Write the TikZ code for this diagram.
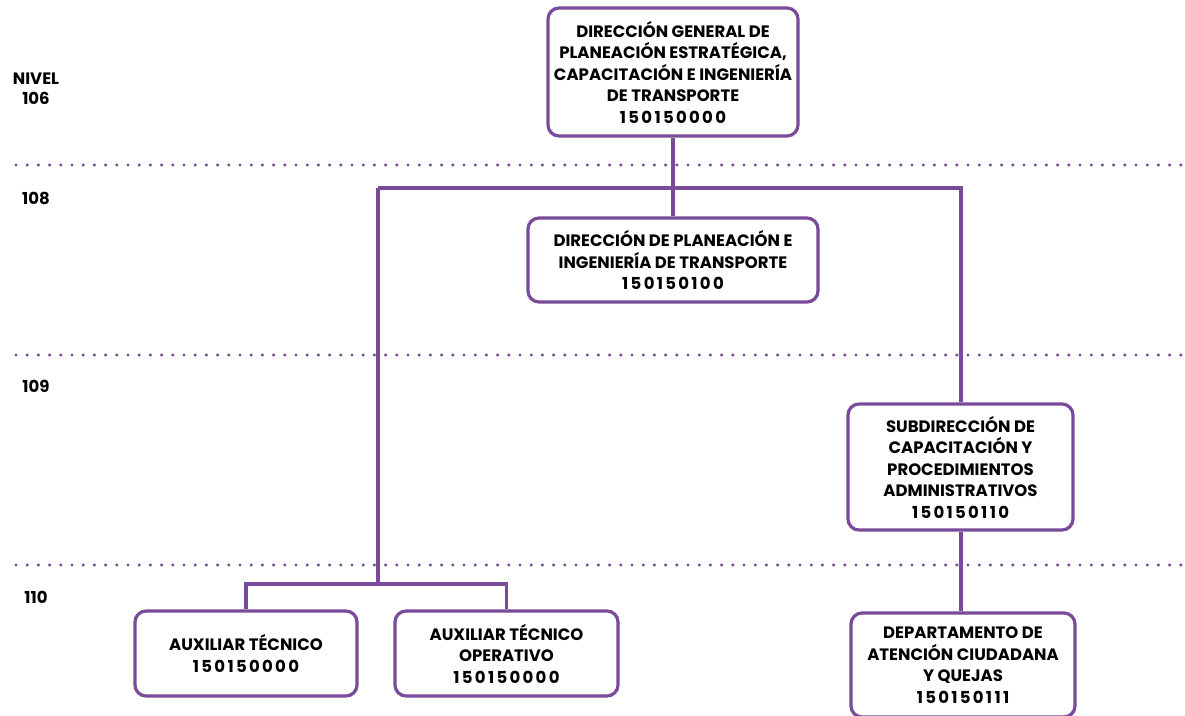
\documentclass[tikz,border=0pt]{standalone}
\usepackage{fontspec}
\setmainfont{Poppins}[BoldFont=* Bold]
\usetikzlibrary{positioning}
\definecolor{morado}{HTML}{7A4A9A}
\newcommand{\clave}[1]{{\addfontfeatures{LetterSpace=14}#1}}

\tikzset{
	puesto/.style={draw=morado, line width=3.2pt, rounded corners=11pt, fill=white,
		align=center, font=\fontsize{16.5}{21.5}\selectfont\bfseries, inner sep=0pt},
	liga/.style={draw=morado, line width=3.2pt},
	nivel/.style={draw=morado, line width=3.4pt, dash pattern=on 0pt off 11.2pt, line cap=round},
	etiqueta/.style={font=\fontsize{16.5}{20}\selectfont\bfseries, align=center, inner sep=0pt}
}

\begin{document}
\begin{tikzpicture}[x=1pt, y=-1pt]
	\useasboundingbox (0,0) rectangle (1185,715);

	% niveles
	\draw[nivel] (16,165) -- (1185,165);
	\draw[nivel] (16,355) -- (1185,355);
	\draw[nivel] (16,565) -- (1185,565);

	\node[etiqueta] (n106) at (36,89) {NIVEL\\106};
	\node[etiqueta] (n108) at (36,198) {108};
	\node[etiqueta] (n109) at (36,386) {109};
	\node[etiqueta] (n110) at (36,597) {110};

	% puestos
	\node[puesto, minimum width=250pt, minimum height=128pt] (dg) at (673,72)
		{DIRECCIÓN GENERAL DE\\PLANEACIÓN ESTRATÉGICA,\\CAPACITACIÓN E INGENIERÍA\\DE TRANSPORTE\\\clave{150150000}};
	\node[puesto, minimum width=290pt, minimum height=84pt] (dp) at (673,260)
		{DIRECCIÓN DE PLANEACIÓN E\\INGENIERÍA DE TRANSPORTE\\\clave{150150100}};
	\node[puesto, minimum width=225pt, minimum height=126pt] (sub) at (960.5,467)
		{SUBDIRECCIÓN DE\\CAPACITACIÓN Y\\PROCEDIMIENTOS\\ADMINISTRATIVOS\\\clave{150150110}};
	\node[puesto, minimum width=224pt, minimum height=104pt] (dep) at (963,665)
		{DEPARTAMENTO DE\\ATENCIÓN CIUDADANA\\Y QUEJAS\\\clave{150150111}};
	\node[puesto, minimum width=222pt, minimum height=85pt] (aux) at (246,653.5)
		{AUXILIAR TÉCNICO\\\clave{150150000}};
	\node[puesto, minimum width=223pt, minimum height=85pt] (auxop) at (506.5,653.5)
		{AUXILIAR TÉCNICO\\OPERATIVO\\\clave{150150000}};

	% ligas
	\coordinate (ramal) at (673,188);
	\coordinate (izq) at (378,188);
	\coordinate (der) at (961,188);
	\coordinate (baja) at (378,584);

	\draw[liga] (dg.south) -- (dp.north);
	\draw[liga] (izq) -- (der) -- (sub.north -| der);
	\draw[liga] (izq) -- (baja);
	\draw[liga] (aux.north) |- (baja) -| (auxop.north);
	\draw[liga] (sub.south -| der) -- (dep.north -| der);
\end{tikzpicture}
\end{document}
